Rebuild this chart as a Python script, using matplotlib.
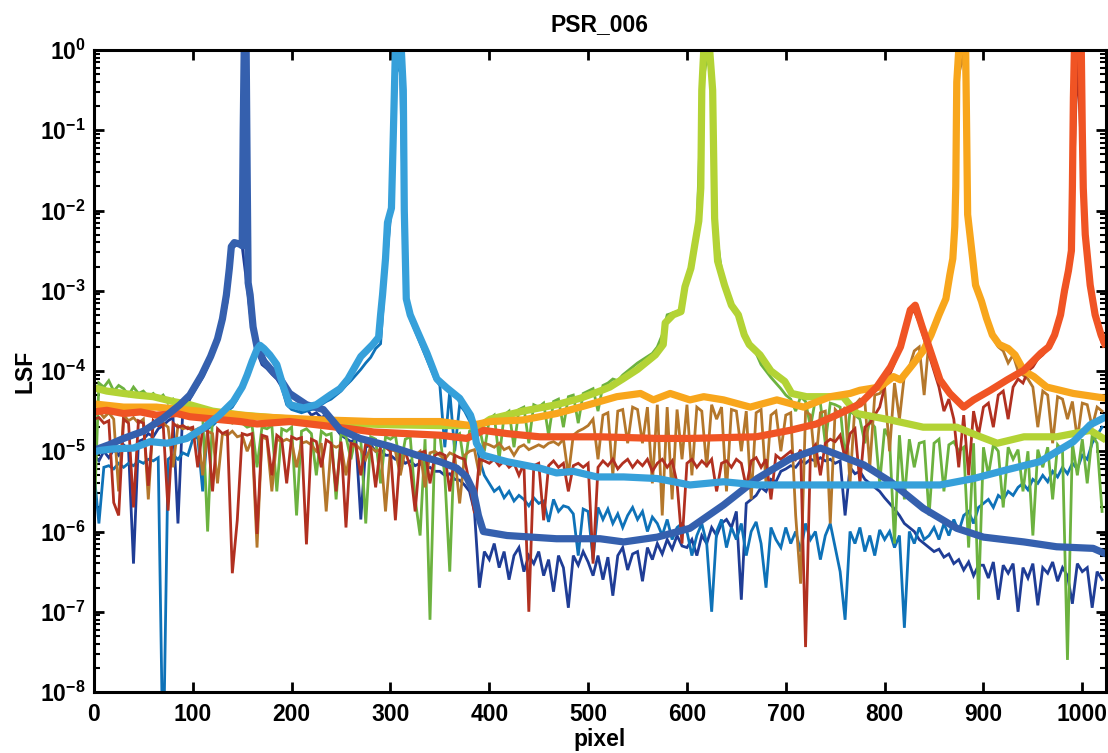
import numpy as np
import matplotlib
matplotlib.use('Agg')
import matplotlib.pyplot as plt
from matplotlib.ticker import FixedLocator, LogLocator, NullFormatter, NullLocator

plt.rcParams['font.family'] = ['Liberation Sans', 'DejaVu Sans']
plt.rcParams['font.weight'] = 'bold'
plt.rcParams['mathtext.fontset'] = 'custom'
plt.rcParams['mathtext.rm'] = 'Liberation Sans:bold'
plt.rcParams['mathtext.bf'] = 'Liberation Sans:bold'
plt.rcParams['mathtext.it'] = 'Liberation Sans:bold'
plt.rcParams['mathtext.default'] = 'bf'

# ---------------- data (log10 of LSF) ----------------
thin_x = np.arange(0, 1021, 5)   # pixel positions of the noisy (per-pixel) curves

navy_log = [
    -5.05, -5.12, -5.0, -5.08, -4.98, -5.05, -4.92, -4.98, -6.4, -4.88,
    -4.85, -4.78, -4.82, -4.72, -4.68, -4.62, -4.58, -5.9, -4.45, -4.4,
    -4.28, -4.18, -4.08, -3.95, -3.8, -3.65, -3.42, -3.12, -2.47, -2.42,
    -2.45, -2.95, -3.48, -3.76, -3.92, -3.97, -4.04, -4.1, -4.2, -4.32,
    -4.4, -4.45, -4.5, -4.47, -4.55, -4.52, -4.58, -4.55, -4.65, -4.72,
    -4.8, -4.84, -4.88, -4.85, -5.85, -4.95, -4.92, -5.0, -4.98, -5.05,
    -5.05, -5.1, -5.08, -5.15, -5.12, -5.18, -5.15, -5.22, -5.2, -5.25,
    -5.25, -5.3, -5.28, -5.35, -5.36, -5.42, -5.5, -5.75, -6.7, -6.25,
    -6.35, -6.15, -6.45, -6.25, -6.6, -6.3, -6.2, -6.5, -6.3, -6.4,
    -6.25, -6.55, -6.35, -6.75, -6.3, -6.45, -6.95, -6.3, -6.42, -6.25,
    -6.38, -6.55, -6.3, -6.6, -6.32, -6.8, -6.3, -6.2, -6.48, -6.28,
    -6.25, -6.62, -6.2, -6.35, -6.15, -6.28, -6.1, -6.22, -6.05, -6.18,
    -6.2, -6.1, -6.3, -6.05, -6.15, -5.95, -6.05, -5.9, -5.85, -5.95,
    -5.75, -6.85, -5.65, -5.6, -5.55, -5.45, -5.5, -5.35, -5.38, -5.25,
    -5.22, -5.18, -5.2, -5.12, -5.15, -5.1, -5.12, -5.08, -5.12, -5.1,
    -5.15, -5.12, -5.8, -5.2, -5.28, -5.25, -5.35, -5.4, -5.45, -5.5,
    -5.58, -5.65, -5.72, -5.8, -5.9, -5.95, -6.0, -6.1, -6.15, -6.2,
    -6.25, -6.22, -6.32, -6.28, -6.4, -6.35, -6.48, -6.38, -6.55, -6.42,
    -6.42, -6.58, -6.38, -6.85, -6.42, -6.52, -6.4, -7.0, -6.45, -6.58,
    -6.4, -6.92, -6.45, -6.52, -6.38, -6.62, -6.45, -6.55, -6.9, -6.4,
    -6.5, -6.45, -6.95, -6.5, -6.6,
]

mblue_log = [
    -5.25, -5.9, -5.2, -5.18, -5.22, -5.15, -5.2, -5.15, -5.18, -5.12,
    -5.15, -5.1, -5.12, -5.08, -9.0, -5.1, -5.05, -5.1, -5.02, -5.05,
    -4.85, -4.82, -5.5, -4.72, -4.68, -4.62, -4.58, -4.5, -4.45, -4.35,
    -4.22, -4.08, -3.92, -3.78, -3.74, -3.8, -3.86, -3.98, -4.2, -4.42,
    -4.48, -4.5, -4.52, -4.5, -4.48, -4.47, -4.42, -4.38, -4.35, -4.3,
    -4.25, -4.18, -4.12, -4.05, -3.98, -3.9, -3.83, -3.72, -3.66, -2.75,
    -2.1, -0.3, -0.2, -3.1, -3.35, -3.5, -3.65, -3.8, -3.95, -4.1,
    -4.18, -4.95, -4.25, -5.0, -4.42, -4.5, -4.62, -4.75, -5.1, -5.3,
    -5.4, -5.5, -5.45, -5.58, -5.5, -5.62, -5.55, -5.6, -5.68, -5.58,
    -5.65, -5.62, -5.88, -5.6, -5.75, -5.68, -5.7, -5.78, -6.3, -5.72,
    -5.75, -6.35, -5.7, -5.85, -5.72, -5.9, -5.78, -5.95, -5.8, -5.7,
    -5.85, -5.75, -6.0, -5.82, -5.9, -6.05, -5.85, -6.1, -5.95, -5.9,
    -6.0, -6.3, -6.05, -5.9, -6.15, -7.0, -6.0, -5.85, -6.2, -5.95,
    -6.1, -5.9, -6.3, -6.0, -5.88, -6.15, -6.7, -5.95, -6.1, -6.2,
    -5.95, -6.15, -6.0, -6.25, -5.9, -6.1, -6.0, -6.35, -6.05, -5.9,
    -6.2, -6.5, -7.1, -6.0, -6.15, -5.95, -6.25, -6.05, -6.3, -5.98,
    -6.1, -6.0, -6.2, -6.05, -7.2, -6.0, -6.15, -5.95, -6.1, -6.05,
    -5.95, -6.1, -5.9, -6.05, -5.85, -6.0, -5.8, -5.75, -5.9, -5.7,
    -5.65, -5.6, -5.7, -5.55, -5.6, -5.5, -5.55, -5.45, -5.4, -5.48,
    -5.35, -5.4, -5.3, -5.38, -5.25, -5.32, -5.2, -5.28, -5.15, -5.22,
    -5.05, -5.1, -4.9, -4.8, -4.7,
]

green_log = [
    -5.9, -4.15, -4.2, -4.12, -4.25, -4.18, -4.22, -4.3, -4.2, -4.28,
    -4.25, -4.32, -4.28, -4.35, -4.3, -4.4, -4.35, -4.45, -4.4, -4.5,
    -4.45, -4.5, -4.55, -6.0, -4.55, -4.6, -4.58, -4.62, -4.65, -4.6,
    -4.65, -4.7, -4.68, -5.2, -4.7, -4.72, -4.68, -5.5, -4.72, -4.75,
    -4.7, -5.8, -4.75, -4.72, -4.78, -5.3, -4.75, -4.8, -4.78, -5.6,
    -4.78, -4.82, -5.1, -4.8, -4.85, -5.9, -4.82, -4.85, -5.4, -4.82,
    -4.85, -4.8, -5.2, -4.85, -4.82, -5.6, -6.05, -4.85, -7.1, -4.82,
    -4.8, -5.3, -6.5, -4.82, -4.78, -5.2, -4.75, -4.72, -4.7, -5.0,
    -4.6, -4.55, -5.1, -4.55, -4.5, -4.95, -4.48, -4.45, -4.9, -4.42,
    -4.45, -4.4, -4.8, -4.38, -4.35, -4.7, -4.32, -4.3, -4.65, -4.28,
    -4.25, -4.22, -4.5, -4.18, -4.15, -4.1, -4.12, -4.05, -4.0, -3.95,
    -3.9, -3.86, -3.82, -3.78, -3.7, -3.55, -3.3, -3.28, -3.26, -3.22,
    -2.9, -2.6, -2.25, -0.5, -0.1, -0.3, -2.3, -2.75, -3.0, -3.15,
    -3.28, -3.45, -3.6, -3.72, -3.78, -3.92, -4.0, -4.08, -4.15, -4.22,
    -4.3, -4.35, -4.5, -4.32, -4.38, -4.7, -4.35, -4.4, -4.9, -4.4,
    -4.42, -4.45, -5.1, -4.5, -4.55, -4.6, -4.9, -4.62, -4.7, -5.4,
    -4.72, -4.85, -6.15, -4.8, -5.6, -4.85, -5.2, -4.9, -4.88, -5.8,
    -4.9, -4.85, -5.5, -4.92, -4.88, -5.0, -4.95, -6.2, -4.9, -6.85,
    -4.95, -5.3, -4.92, -5.0, -5.7, -4.95, -5.1, -4.98, -5.5, -5.0,
    -6.05, -4.98, -5.2, -4.95, -5.6, -4.92, -5.0, -7.6, -4.9, -5.3,
    -4.85, -5.4, -4.8, -4.9, -5.75,
]

ochre_log = [
    -4.55, -4.5, -4.58, -4.52, -4.6, -5.5, -4.55, -4.62, -4.58, -4.65,
    -4.6, -5.6, -4.62, -4.68, -4.65, -4.7, -5.2, -4.68, -4.72, -4.7,
    -4.75, -4.72, -5.3, -4.75, -4.78, -5.4, -4.78, -4.8, -4.75, -4.82,
    -4.8, -5.0, -4.85, -6.2, -4.82, -4.85, -5.5, -4.85, -4.88, -4.85,
    -4.88, -5.2, -4.9, -4.88, -4.92, -5.0, -4.9, -5.75, -4.92, -4.95,
    -4.92, -5.3, -4.95, -4.92, -4.98, -5.1, -4.95, -5.0, -4.98, -5.75,
    -4.98, -5.0, -5.3, -4.98, -5.0, -5.05, -5.0, -5.45, -5.02, -5.0,
    -5.05, -5.1, -5.02, -5.05, -5.65, -5.05, -5.0, -4.98, -5.3, -4.9,
    -4.92, -4.95, -4.9, -4.98, -4.95, -5.05, -4.95, -4.92, -4.98, -4.95,
    -4.92, -4.95, -4.9, -4.88, -4.92, -4.85, -5.3, -4.8, -4.75, -4.72,
    -4.68, -4.6, -5.1, -4.55, -4.52, -5.3, -4.5, -4.48, -4.9, -4.45,
    -4.48, -4.9, -4.45, -5.4, -4.42, -5.8, -4.45, -5.6, -4.48, -5.1,
    -4.42, -5.3, -4.45, -4.5, -5.2, -4.42, -4.6, -4.45, -5.5, -4.48,
    -4.5, -5.0, -4.5, -5.6, -4.52, -4.48, -5.4, -4.55, -4.5, -5.0,
    -4.55, -4.52, -5.8, -6.65, -4.5, -4.55, -5.2, -4.52, -4.5, -5.9,
    -4.48, -4.55, -4.45, -5.4, -4.42, -4.35, -4.38, -5.2, -4.3, -4.28,
    -4.2, -5.0, -4.15, -4.6, -4.05, -3.95, -3.75, -3.7, -4.3, -3.6,
    -3.48, -3.33, -3.15, -2.85, -2.6, -0.3, -0.05, -2.2, -2.7, -3.05,
    -3.2, -3.4, -3.6, -3.7, -3.75, -3.9, -3.8, -4.0, -4.05, -4.1,
    -4.2, -4.7, -4.25, -4.3, -4.9, -4.32, -4.35, -4.6, -4.38, -4.85,
    -4.4, -4.42, -4.7, -4.45, -4.5,
]

dred_log = [
    -4.6, -4.58, -4.65, -4.62, -5.64, -5.8, -4.6, -4.65, -5.7, -4.62,
    -4.65, -5.43, -4.62, -4.68, -4.66, -5.74, -4.65, -4.7, -4.68, -4.72,
    -4.7, -5.2, -4.72, -4.75, -5.5, -4.72, -4.78, -4.75, -6.52, -5.86,
    -4.78, -4.8, -4.78, -6.03, -4.8, -4.82, -5.3, -4.8, -4.85, -5.4,
    -4.82, -4.85, -4.83, -6.16, -4.85, -4.88, -5.2, -4.86, -4.9, -5.5,
    -4.88, -5.95, -4.9, -4.92, -5.3, -4.9, -4.95, -5.45, -4.92, -4.95,
    -5.0, -5.86, -4.98, -5.0, -5.2, -5.75, -5.02, -5.0, -5.4, -5.05,
    -5.02, -5.05, -5.5, -5.05, -5.08, -5.1, -5.4, -5.77, -5.1, -5.12,
    -5.15, -5.1, -5.18, -5.12, -5.2, -5.15, -5.3, -5.15, -7.0, -5.18,
    -5.15, -5.86, -5.18, -5.12, -5.2, -5.15, -5.5, -5.18, -5.15, -5.2,
    -5.15, -6.4, -5.2, -5.12, -5.18, -5.1, -5.22, -5.15, -5.1, -5.2,
    -5.12, -5.18, -5.1, -5.25, -5.15, -5.1, -5.2, -5.12, -5.4, -6.15,
    -5.15, -5.1, -5.2, -5.12, -5.18, -5.1, -5.5, -5.15, -5.12, -5.2,
    -5.1, -5.15, -5.45, -5.12, -5.08, -5.2, -5.1, -5.6, -5.05, -5.1,
    -5.05, -5.0, -5.1, -4.98, -7.44, -5.0, -4.92, -5.3, -4.9, -4.85,
    -4.88, -4.8, -5.1, -4.78, -4.72, -5.4, -4.7, -4.65, -4.55, -4.45,
    -4.2, -4.05, -3.9, -3.75, -3.5, -3.3, -3.25, -3.4, -3.6, -3.8,
    -4.0, -4.2, -4.5, -4.35, -4.6, -5.2, -4.55, -5.3, -4.5, -4.8,
    -4.45, -4.4, -4.7, -4.3, -4.25, -4.6, -4.2, -4.1, -4.15, -4.0,
    -3.95, -3.85, -3.8, -3.72, -3.65, -3.48, -3.22, -2.92, -2.1, -0.1,
    -1.5, -2.7, -3.15, -3.45, -3.65,
]

# smooth (thick) curves
dblue_x = [0, 4, 15, 30, 50, 70, 87, 97, 109, 118, 125, 130, 134, 137, 139, 142, 148, 150, 151, 152,
           154, 155, 156, 158, 161, 165, 172, 179, 188, 198, 215, 232, 249, 269, 300, 327, 350, 367, 377, 384,
           389, 394, 418, 468, 512, 536, 570, 603, 637, 671, 705, 735, 758, 779, 806, 839, 873, 900, 941, 974,
           1011, 1024]
dblue_log = [-4.98, -4.97, -4.92, -4.84, -4.75, -4.59, -4.42, -4.30, -4.05, -3.82, -3.6, -3.35, -3.05, -2.72, -2.45, -2.40, -2.42, -2.44, -1.0, 0.0,
             0.0, -1.5, -2.9, -3.05, -3.45, -3.70, -3.88, -3.98, -4.09, -4.28, -4.42, -4.48, -4.73, -4.84, -4.94, -5.05, -5.13, -5.21, -5.32, -5.5,
             -5.8, -6.0, -6.05, -6.09, -6.09, -6.13, -6.07, -5.96, -5.67, -5.34, -5.09, -4.96, -5.07, -5.17, -5.38, -5.71, -5.96, -6.07, -6.13, -6.19,
             -6.21, -6.28]

lblue_x = [0, 3, 6, 20, 40, 57, 74, 94, 111, 127, 141, 150, 155, 160, 165, 168, 172, 178, 185, 192,
           198, 212, 225, 239, 249, 257, 270, 282, 288, 290, 292, 295, 297, 301, 303, 305, 308, 311, 313, 314,
           316, 320, 327, 337, 347, 357, 370, 381, 384, 387, 394, 418, 451, 468, 485, 509, 536, 570, 603, 637,
           671, 738, 806, 856, 890, 924, 957, 991, 1008, 1024]
lblue_log = [-5.0, -5.0, -4.99, -4.97, -4.96, -4.88, -4.9, -4.84, -4.71, -4.55, -4.38, -4.2, -4.05, -3.88, -3.73, -3.68, -3.72, -3.8, -3.92, -4.21,
             -4.42, -4.46, -4.42, -4.3, -4.22, -4.1, -3.82, -3.67, -3.58, -3.3, -3.05, -2.6, -2.15, -1.97, -1.0, 0.0, 0.0, 0.0, -0.5, -2.0,
             -3.1, -3.3, -3.5, -3.78, -4.1, -4.21, -4.34, -4.55, -4.67, -4.9, -5.05, -5.13, -5.21, -5.27, -5.25, -5.32, -5.32, -5.34, -5.42, -5.38,
             -5.42, -5.42, -5.42, -5.42, -5.34, -5.23, -5.13, -4.88, -4.67, -4.57]

ygreen_x = [0, 13, 30, 43, 60, 80, 97, 120, 150, 200, 250, 300, 350, 380, 386, 401, 434, 468, 492, 512,
            522, 535, 550, 560, 568, 576, 578, 586, 594, 598, 604, 608, 612, 614, 615, 617, 623, 626, 628, 631,
            638, 645, 652, 658, 663, 674, 685, 699, 706, 721, 738, 758, 772, 806, 839, 873, 897, 914, 941, 974,
            1008, 1024]
ygreen_log = [-4.21, -4.25, -4.28, -4.3, -4.32, -4.38, -4.42, -4.5, -4.55, -4.6, -4.65, -4.67, -4.68, -4.68, -4.72, -4.6, -4.5, -4.42, -4.34, -4.25,
              -4.2, -4.1, -3.98, -3.88, -3.8, -3.67, -3.4, -3.3, -3.26, -2.95, -2.72, -2.42, -2.13, -1.72, -0.5, 0.0, 0.0, -0.5, -2.1, -2.63,
              -2.93, -3.18, -3.3, -3.55, -3.67, -3.8, -4.0, -4.13, -4.28, -4.32, -4.32, -4.32, -4.53, -4.61, -4.7, -4.7, -4.82, -4.9, -4.82, -4.82,
              -4.74, -4.86]

orange_x = [0, 30, 63, 97, 131, 165, 198, 232, 259, 283, 316, 350, 381, 401, 434, 468, 492, 512, 529, 553,
            566, 583, 603, 617, 637, 664, 691, 718, 745, 765, 775, 795, 809, 816, 829, 839, 847, 855, 862, 866,
            869, 871, 872, 873, 875, 882, 883, 884, 889, 892, 898, 903, 909, 916, 925, 932, 941, 951, 964, 991,
            1024]
orange_log = [-4.41, -4.45, -4.45, -4.49, -4.53, -4.57, -4.59, -4.61, -4.62, -4.63, -4.63, -4.63, -4.68, -4.63, -4.61, -4.53, -4.45, -4.38, -4.32, -4.28,
              -4.36, -4.28, -4.36, -4.32, -4.36, -4.45, -4.36, -4.45, -4.32, -4.28, -4.24, -4.2, -4.07, -4.11, -3.91, -3.75, -3.55, -3.3, -3.1, -2.8,
              -2.6, -2.2, -1.7, -0.4, 0.0, 0.0, -1.0, -2.05, -2.59, -2.93, -3.13, -3.34, -3.55, -3.67, -3.72, -3.8, -4.0, -4.07, -4.2, -4.28,
              -4.34]

red_x = [0, 13, 30, 47, 63, 84, 97, 114, 131, 148, 165, 198, 232, 259, 283, 316, 350, 377, 384, 394,
         418, 451, 485, 512, 570, 603, 670, 704, 731, 751, 765, 775, 792, 806, 816, 826, 831, 838, 846, 856,
         866, 880, 890, 907, 924, 941, 958, 966, 972, 978, 982, 986, 989, 990, 991, 992, 999, 1000, 1001, 1003,
         1008, 1013, 1019, 1024]
red_log = [-4.51, -4.49, -4.53, -4.51, -4.55, -4.53, -4.57, -4.59, -4.61, -4.63, -4.66, -4.63, -4.68, -4.72, -4.76, -4.78, -4.8, -4.84, -4.8, -4.74,
           -4.78, -4.82, -4.82, -4.82, -4.84, -4.84, -4.82, -4.74, -4.66, -4.55, -4.47, -4.41, -4.2, -3.95, -3.7, -3.24, -3.18, -3.45, -3.74, -4.11,
           -4.28, -4.45, -4.36, -4.24, -4.11, -3.99, -3.78, -3.7, -3.55, -3.3, -3.0, -2.75, -2.5, -1.7, -0.6, 0.0, 0.0, -1.0, -1.72, -2.3,
           -2.93, -3.3, -3.55, -3.7]

xtick_values = [0, 100, 200, 300, 400, 500, 600, 700, 800, 900, 1000]
ytick_exponents = [-8, -7, -6, -5, -4, -3, -2, -1, 0]
ytick_labels = [r'$\mathbf{10^{%d}}$' % e for e in ytick_exponents]

# ---------------- figure ----------------
fig = plt.figure(figsize=(11.08, 7.53), dpi=100)
ax = fig.add_axes([0.0848, 0.081, 0.9134, 0.8526])

thin = [(navy_log, '#1F3D96'), (mblue_log, '#0E72B8'), (green_log, '#6CB23F'),
        (ochre_log, '#B4772B'), (dred_log, '#B13020')]
for vals, col in thin:
    ax.plot(thin_x, np.power(10.0, np.array(vals)), color=col, lw=2.0, solid_joinstyle='miter')

thick = [(ygreen_x, ygreen_log, '#B3D335'), (orange_x, orange_log, '#F8A61C'),
         (red_x, red_log, '#F05424'), (dblue_x, dblue_log, '#3560AE'),
         (lblue_x, lblue_log, '#36A0DA')]
for xs, vals, col in thick:
    ax.plot(xs, np.power(10.0, np.array(vals)), color=col, lw=5.2, solid_joinstyle='round',
            solid_capstyle='butt')

ax.set_yscale('log')
ax.set_ylim(1e-8, 1)
ax.set_xlim(0, 1024)

ax.xaxis.set_major_locator(FixedLocator(xtick_values))
ax.xaxis.set_minor_locator(NullLocator())
ax.set_xticklabels([str(v) for v in xtick_values])
ax.yaxis.set_major_locator(FixedLocator([10.0 ** e for e in ytick_exponents]))
ax.set_yticklabels(ytick_labels)
ax.yaxis.set_minor_locator(LogLocator(base=10, subs=np.arange(2, 10), numticks=50))
ax.yaxis.set_minor_formatter(NullFormatter())

ax.tick_params(axis='both', which='major', direction='in', length=7, width=2,
               top=True, right=True, labelsize=16.5)
ax.tick_params(axis='x', which='major', pad=8)
ax.tick_params(axis='y', which='major', pad=6)
ax.tick_params(axis='y', which='minor', direction='in', length=4, width=1.5,
               left=True, right=True)
for sp in ax.spines.values():
    sp.set_linewidth(2.2)

ax.set_title('PSR_006', fontsize=16.5, fontweight='bold', pad=14)
ax.set_xlabel('pixel', fontsize=16.5, fontweight='bold', labelpad=1)
ax.set_ylabel('LSF', fontsize=16.5, fontweight='bold', labelpad=2)

fig.savefig('out.png', dpi=100)
